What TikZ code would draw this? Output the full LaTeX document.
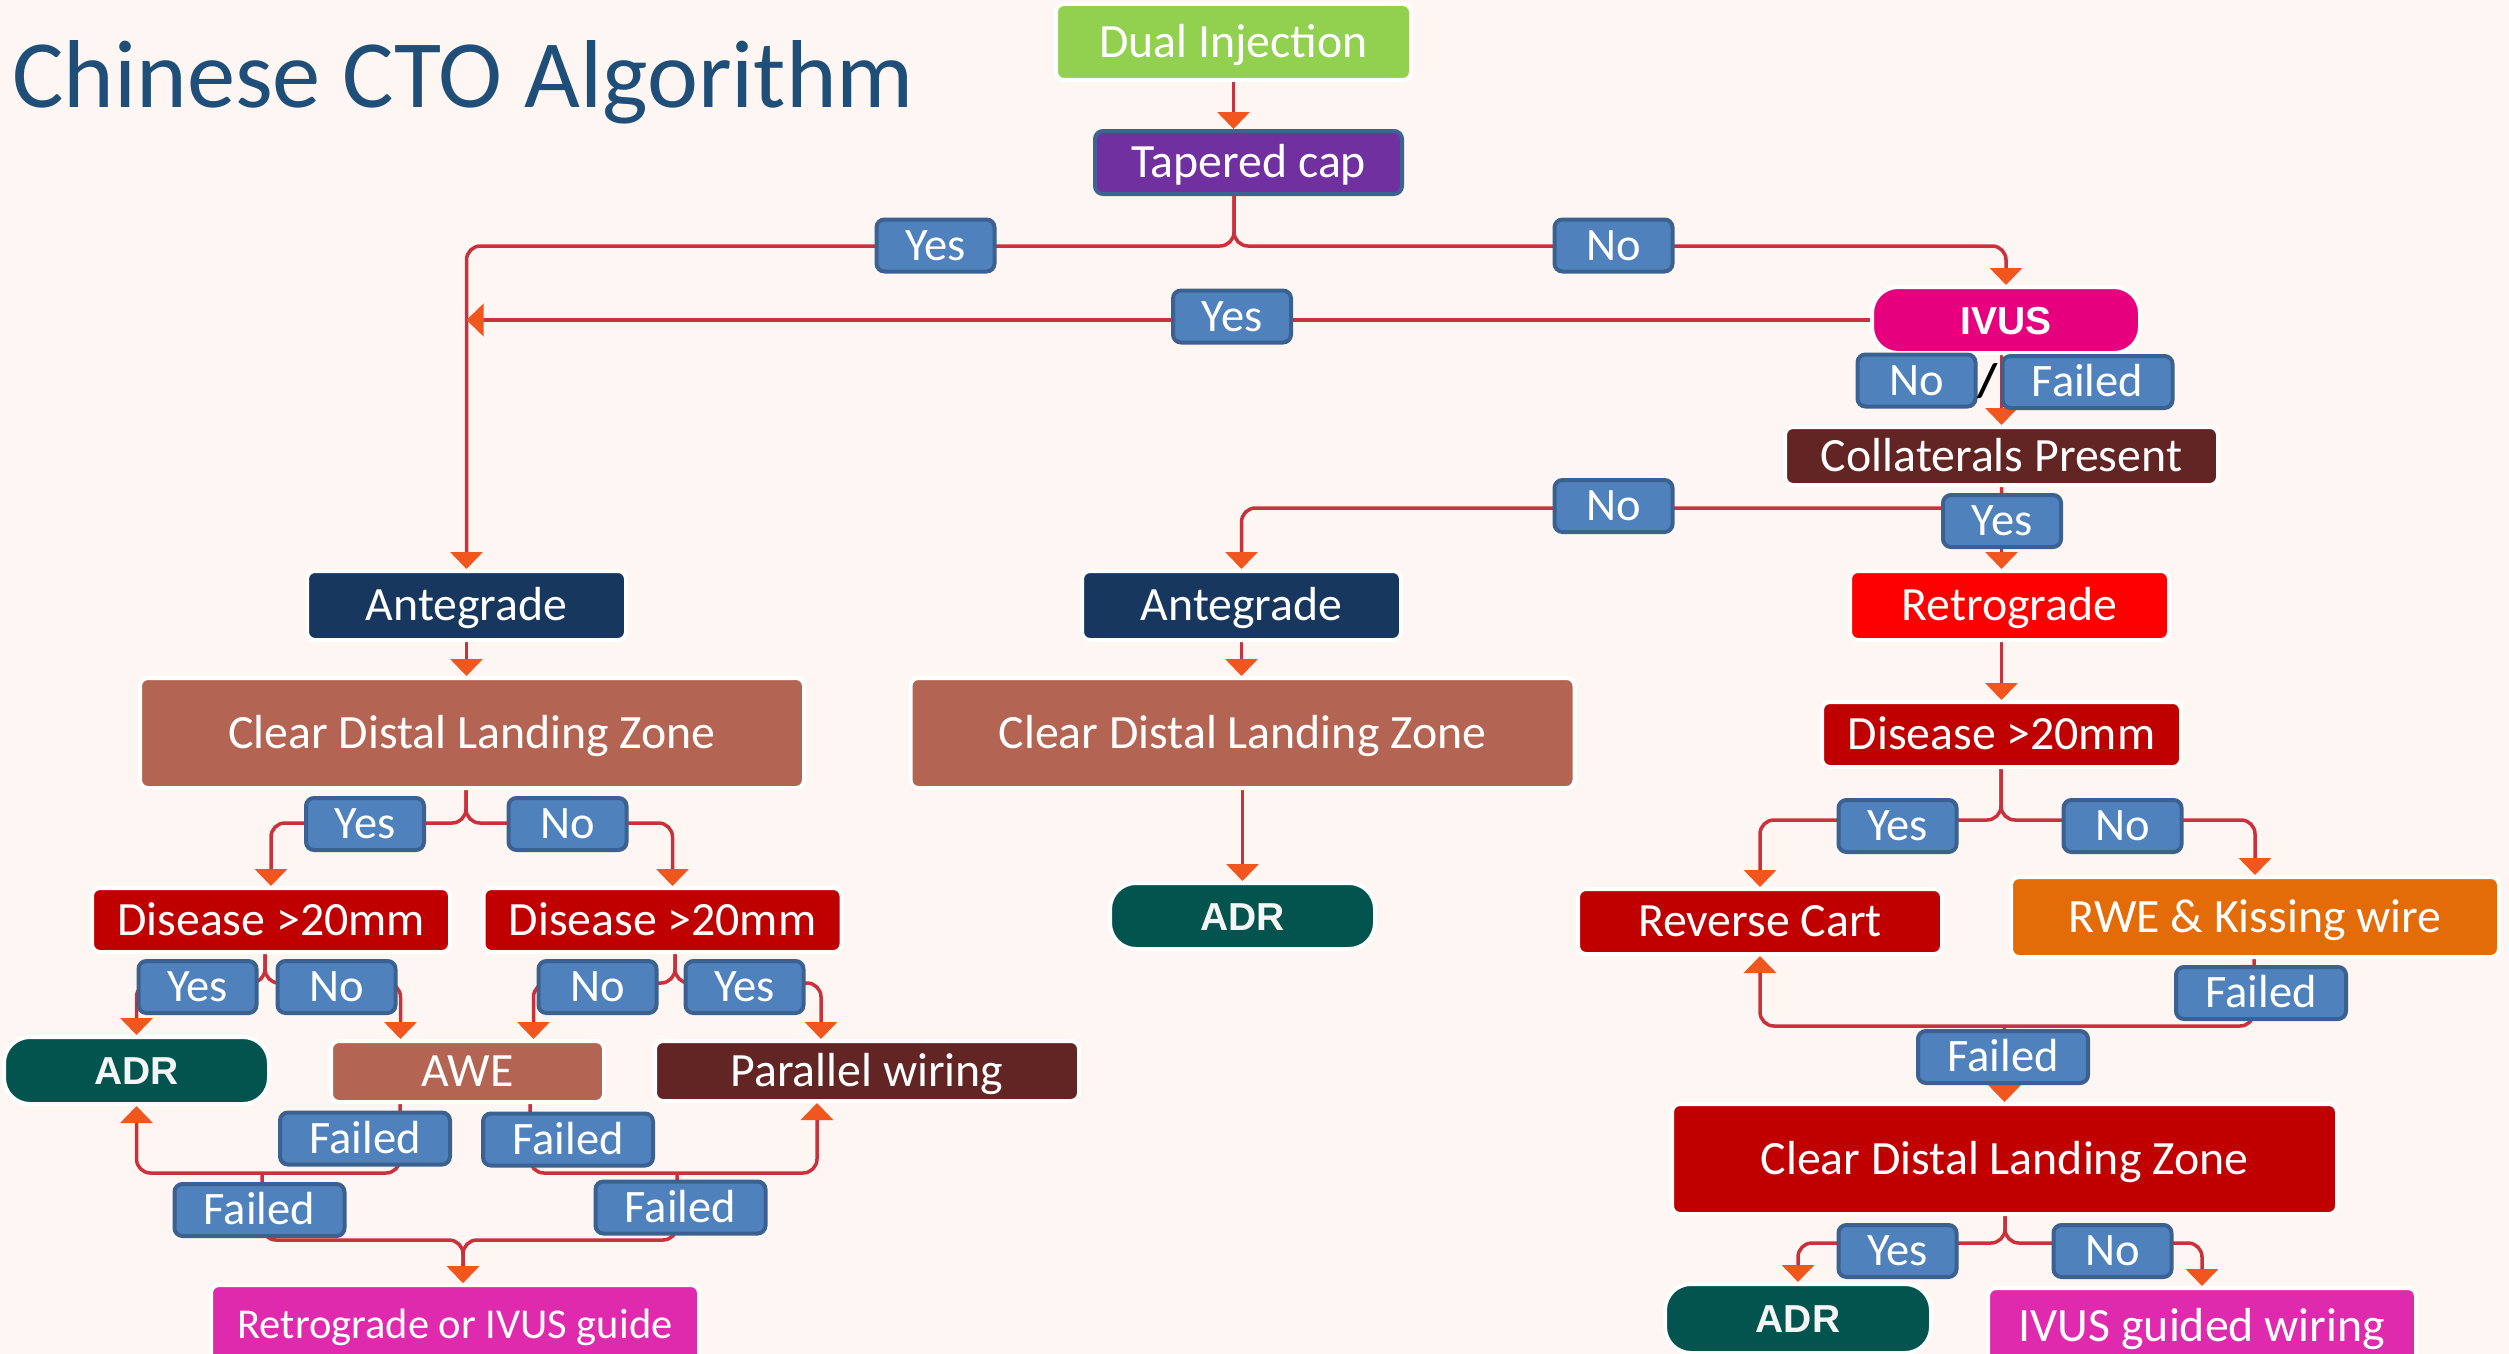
\documentclass[tikz,border=0pt]{standalone}
\usepackage{fontspec}
\setmainfont{Carlito}
\newfontfamily\arialfont{Liberation Sans}
\usetikzlibrary{arrows.meta,calc}
\pgfdeclarelayer{back}
\pgfdeclarelayer{lines}
\pgfsetlayers{back,lines,main}

\definecolor{bgc}{HTML}{FDF6F2}
\definecolor{titlec}{HTML}{1F4E79}
\definecolor{cgreen}{HTML}{92D050}
\definecolor{cpurple}{HTML}{7030A0}
\definecolor{taperedge}{HTML}{3D6394}
\definecolor{labfill}{HTML}{4F81BD}
\definecolor{labedge}{HTML}{3A6190}
\definecolor{cmagenta}{HTML}{E6007E}
\definecolor{cmaroon}{HTML}{632523}
\definecolor{cnavy}{HTML}{17375E}
\definecolor{cred}{HTML}{FF0000}
\definecolor{cterra}{HTML}{B46452}
\definecolor{cdark}{HTML}{C00000}
\definecolor{cteal}{HTML}{03534F}
\definecolor{cpink}{HTML}{E02AAD}
\definecolor{corange}{HTML}{E36C09}
\definecolor{linec}{HTML}{C9313D}
\definecolor{arrc}{HTML}{F0561E}

\tikzset{
  box/.style={rectangle, rounded corners=8pt, draw=white, line width=4pt,
    text=white, inner sep=0pt, font=\fontsize{47.8}{56}\selectfont,
    text height=30.5pt, text depth=0pt},
  lab/.style={rectangle, rounded corners=8pt, fill=labfill, draw=labedge,
    line width=4pt, text=white, inner sep=0pt, minimum width=118pt,
    minimum height=52pt, font=\fontsize{46.5}{55}\selectfont,
    text height=29.8pt, text depth=0pt},
  flab/.style={lab, minimum width=170pt},
  pill/.style={box, rounded corners=26pt, text=white!92!gray,
    font=\arialfont\bfseries\fontsize{39}{44}\selectfont, text height=28pt},
  conn/.style={draw=linec, line width=3.5pt, rounded corners=14pt,
    -{Triangle[width=32pt,length=17pt,color=arrc]}},
}

\begin{document}
\begin{tikzpicture}[x=1pt,y=-1pt]
\useasboundingbox (0,0) rectangle (2509,1354);
\begin{pgfonlayer}{back}
  \fill[bgc] (0,0) rectangle (2509,1354);
\end{pgfonlayer}

% title
\node[anchor=base west, inner sep=0pt, text=titlec,
  font=\fontsize{96.5}{110}\selectfont] (title) at (12,107) {Chinese CTO Algorithm};

% top of the tree
\node[box, fill=cgreen, minimum width=355pt, minimum height=76pt] (dual) at (1233.5,42) {Dual Injection};
\node[box, fill=cpurple, draw=taperedge, minimum width=307pt, minimum height=63pt] (taper) at (1248.5,162.5) {Tapered cap};
\node[lab] (yes1) at (935.5,245.5) {Yes};
\node[lab] (no1) at (1613.5,245.5) {No};
\node[lab] (yes2) at (1232,316.5) {Yes};
\node[pill, fill=cmagenta, text=white, minimum width=268pt, minimum height=66pt] (ivus) at (2006,320) {IVUS};
\node[lab] (no2) at (1916.5,380.5) {No};
\node[inner sep=0pt, text=black, font=\bfseries\fontsize{47}{56}\selectfont] (slash) at (1988,381) {/};
\node[flab] (fl1) at (2087.5,382) {Failed};
\node[box, fill=cmaroon, minimum width=433pt, minimum height=58pt] (coll) at (2001.5,456) {Collaterals Present};
\node[lab] (no3) at (1613.5,506) {No};
\node[lab] (yes3) at (2002,521) {Yes};

% three main routes
\node[box, fill=cnavy, minimum width=319pt, minimum height=69pt] (anteL) at (466.5,605.5) {Antegrade};
\node[box, fill=cnavy, minimum width=319pt, minimum height=69pt] (anteM) at (1241.5,605.5) {Antegrade};
\node[box, fill=cred, minimum width=319pt, minimum height=69pt] (retro) at (2009.5,605.5) {Retrograde};

% left branch
\node[box, fill=cterra, minimum width=664pt, minimum height=110pt] (cdlzL) at (472,733) {Clear Distal Landing Zone};
\node[lab] (yesL) at (365,824) {Yes};
\node[lab] (noL) at (567.5,824) {No};
\node[box, fill=cdark, minimum width=358pt, minimum height=64pt] (dis1) at (271,920) {Disease >20mm};
\node[box, fill=cdark, minimum width=358pt, minimum height=64pt] (dis2) at (662.5,920) {Disease >20mm};
\node[lab] (yes4) at (197.5,987) {Yes};
\node[lab] (no4) at (336.5,987) {No};
\node[lab] (no5) at (597.5,987) {No};
\node[lab] (yes5) at (744.5,987) {Yes};
\node[pill, fill=cteal, minimum width=265pt, minimum height=67pt] (adrL) at (136.5,1070.5) {ADR};
\node[box, fill=cterra, minimum width=273pt, minimum height=61pt] (awe) at (467.5,1071.5) {AWE};
\node[box, fill=cmaroon, minimum width=424pt, minimum height=60pt] (par) at (867,1071) {Parallel wiring};
\node[flab] (fA) at (365,1138.5) {Failed};
\node[flab] (fB) at (568,1139.5) {Failed};
\node[flab] (fC) at (259.5,1210) {Failed};
\node[flab] (fD) at (680.5,1207.5) {Failed};
\node[box, fill=cpink, minimum width=488pt, minimum height=80pt, font=\fontsize{42.5}{50}\selectfont,
  text height=27.4pt] (rig) at (455,1325) {Retrograde or IVUS guide};

% middle branch
\node[box, fill=cterra, minimum width=664pt, minimum height=110pt] (cdlzM) at (1242.5,733) {Clear Distal Landing Zone};
\node[pill, fill=cteal, minimum width=265pt, minimum height=66pt] (adrM) at (1242.5,916) {ADR};

% right branch
\node[box, fill=cdark, minimum width=359pt, minimum height=65pt] (disR) at (2001.5,734.5) {Disease >20mm};
\node[lab] (yesR) at (1897.5,826) {Yes};
\node[lab] (noR) at (2122.5,826) {No};
\node[box, fill=cdark, minimum width=364pt, minimum height=65pt] (rcart) at (1760,921.5) {Reverse Cart};
\node[box, fill=corange, minimum width=488pt, minimum height=80pt] (rwe) at (2255,917) {RWE \& Kissing wire};
\node[flab] (fE) at (2261,993) {Failed};
\node[flab] (fF) at (2003,1057) {Failed};
\node[box, fill=cdark, minimum width=665pt, minimum height=110pt] (cdlzR) at (2004.5,1159) {Clear Distal Landing Zone};
\node[lab] (yesB) at (1897.5,1251) {Yes};
\node[lab] (noB) at (2112.5,1251) {No};
\node[pill, fill=cteal, minimum width=266pt, minimum height=69pt] (adrR) at (1798,1318.5) {ADR};
\node[box, fill=cpink, minimum width=428pt, minimum height=76pt] (ivg) at (2202,1326) {IVUS guided wiring};

% split points of the connectors
\coordinate (s1) at (1234,246);
\coordinate (s2) at (2001.5,508);
\coordinate (s3) at (466,823);
\coordinate (s4) at (265,983);
\coordinate (s5) at (675,983);
\coordinate (r1) at (400,1173);
\coordinate (r2) at (530,1173);
\coordinate (r3) at (262,1173);
\coordinate (r4) at (677,1173);
\coordinate (b0) at (463,1240);
\coordinate (s6) at (2001,820);
\coordinate (r5) at (2254,1026);
\coordinate (r6) at (2004.5,1026);
\coordinate (s7) at (2005,1243);

\begin{pgfonlayer}{lines}
  \draw[conn] (dual.south) -- (dual.south |- taper.north);
  \draw[conn] (s1 |- taper.south) -- (s1) -| (anteL.north);
  \draw[conn] (s1 |- taper.south) -- (s1) -| (ivus.north);
  \draw[conn] (ivus.west) -- (ivus.west -| anteL.north);
  \draw[conn] (ivus.south -| coll.north) -- (coll.north);
  \draw[conn] (coll.south) -- (s2) -| (anteM.north);
  \draw[conn] (coll.south) -- (coll.south |- retro.north);

  \draw[conn] (anteL.south) -- (anteL.south |- cdlzL.north);
  \draw[conn] (anteM.south) -- (anteM.south |- cdlzM.north);
  \draw[conn] (disR.north |- retro.south) -- (disR.north);

  % left branch
  \draw[conn] (s3 |- cdlzL.south) -- (s3) -| (dis1.north);
  \draw[conn] (s3 |- cdlzL.south) -- (s3) -| ($(dis2.north)+(10,0)$);
  \draw[conn] (s4 |- dis1.south) -- (s4) -| (adrL.north);
  \draw[conn] (s4 |- dis1.south) -- (s4) -| ($(awe.north)+(-67,0)$);
  \draw[conn] (s5 |- dis2.south) -- (s5) -| ($(awe.north)+(66,0)$);
  \draw[conn] (s5 |- dis2.south) -- (s5) -| ($(par.north)+(-46,0)$);
  \draw[conn] (r1 |- awe.south) -- (r1) -| (adrL.south);
  \draw[conn] (r2 |- awe.south) -- (r2) -| ($(par.south)+(-50,0)$);
  \draw[conn] (r3) |- (b0) -- (b0 |- rig.north);
  \draw[conn] (r4) |- (b0) -- (b0 |- rig.north);

  % middle branch
  \draw[conn] (cdlzM.south) -- (cdlzM.south |- adrM.north);

  % right branch
  \draw[conn] (s6 |- disR.south) -- (s6) -| (rcart.north);
  \draw[conn] (s6 |- disR.south) -- (s6) -| (rwe.north);
  \draw[conn] (r5 |- rwe.south) -- (r5) -| (rcart.south);
  \draw[conn] (r6) -- (r6 |- cdlzR.north);
  \draw[conn] (s7 |- cdlzR.south) -- (s7) -| (adrR.north);
  \draw[conn] (s7 |- cdlzR.south) -- (s7) -| (ivg.north);
\end{pgfonlayer}
\end{tikzpicture}
\end{document}
